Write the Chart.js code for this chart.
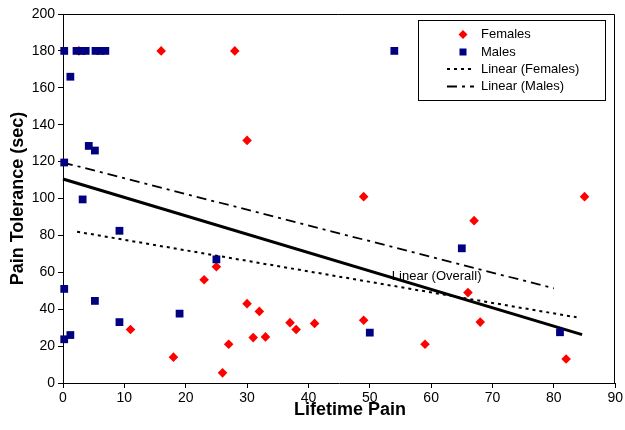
<!DOCTYPE html>
<html>
<head>
<meta charset="utf-8">
<script src="https://cdn.jsdelivr.net/npm/chart.js@4/dist/chart.umd.min.js"></script>
<style>
  html, body { margin: 0; padding: 0; background: #fff; }
  #wrap { width: 625px; height: 430px; position: relative; }
</style>
</head>
<body>
<div id="wrap"><canvas id="c" width="625" height="430"></canvas></div>
<script>
// ---- data ----
const femalesX = [2.6, 16, 28, 30, 49, 85, 67, 66, 68, 59, 82, 25, 23, 30, 11, 18, 26, 31, 32, 27, 33, 37, 38, 41, 49];
const femalesY = [180, 180, 180, 131.5, 101, 101, 88, 49, 33, 21, 13, 63, 56, 43, 29, 14, 5.5, 24.6, 38.8, 21, 25, 32.7, 29, 32.3, 34];

const malesX = [0.2, 2.2, 3, 3.7, 5.3, 6.1, 6.9, 1.2, 4.2, 5.2, 0.2, 3.2, 9.2, 25, 0.2, 5.2, 19, 9.2, 1.2, 0.2, 54, 50, 65, 81];
const malesY = [180, 180, 180, 180, 180, 180, 180, 166, 128.5, 126, 119.5, 99.5, 82.5, 67, 51, 44.5, 37.6, 33, 26, 23.7, 180, 27.3, 73, 27.5];

const trendFemalesX = [2.3, 83.7];
const trendFemalesY = [82, 35.6];
const trendMalesX = [0, 80];
const trendMalesY = [119.5, 51.3];
const trendOverallX = [0, 84.6];
const trendOverallY = [110.6, 26.2];

const xTicks = [0, 10, 20, 30, 40, 50, 60, 70, 80, 90];
const yTicks = [0, 20, 40, 60, 80, 100, 120, 140, 160, 180, 200];

const seriesNames = ['Females', 'Males', 'Linear (Females)', 'Linear (Males)'];
const overallLabel = 'Linear (Overall)';
const overallLabelPos = [60.9, 58];
const xTitle = 'Lifetime Pain';
const yTitle = 'Pain Tolerance (sec)';

// ---- build ----
const pts = (xs, ys) => xs.map((x, i) => ({ x: x, y: ys[i] }));
const FONT = '"Liberation Sans", Arial, Helvetica, sans-serif';
const RED = '#ff0000';
const NAVY = '#000080';
const DOT = [3, 4];
const DASHDOT = [10, 5, 3, 5];

const framePlugin = {
  id: 'frameAndLegend',
  afterDraw(chart) {
    const ctx = chart.ctx;
    const a = chart.chartArea;
    ctx.save();
    // frame (top and right)
    ctx.strokeStyle = '#000';
    ctx.lineWidth = 1;
    ctx.beginPath();
    ctx.moveTo(a.left, a.top + 0.5);
    ctx.lineTo(Math.round(a.right) - 0.5, a.top + 0.5);
    ctx.lineTo(Math.round(a.right) - 0.5, a.bottom);
    ctx.stroke();

    // x axis title
    ctx.fillStyle = '#000';
    ctx.font = 'bold 18px ' + FONT;
    ctx.textAlign = 'center';
    ctx.textBaseline = 'middle';
    ctx.fillText(xTitle, 350, 410);

    // overall label
    const xs = chart.scales.x, ys = chart.scales.y;
    ctx.font = '13px ' + FONT;
    ctx.fillText(overallLabel, xs.getPixelForValue(overallLabelPos[0]), ys.getPixelForValue(overallLabelPos[1]));

    // legend box
    const bx = 418.5, by = 20.5, bw = 187, bh = 80;
    ctx.fillStyle = '#fff';
    ctx.fillRect(bx, by, bw, bh);
    ctx.strokeStyle = '#000';
    ctx.lineWidth = 1;
    ctx.strokeRect(bx, by, bw, bh);
    const rows = [34.5, 52, 69, 86.5];
    const sx = 463, tx = 481;
    ctx.textAlign = 'left';
    ctx.font = '13px ' + FONT;
    // Females: diamond
    ctx.fillStyle = RED;
    ctx.beginPath();
    ctx.moveTo(sx, rows[0] - 4.5); ctx.lineTo(sx + 4.5, rows[0]); ctx.lineTo(sx, rows[0] + 4.5); ctx.lineTo(sx - 4.5, rows[0]);
    ctx.closePath(); ctx.fill();
    // Males: square
    ctx.fillStyle = NAVY;
    ctx.fillRect(sx - 3.5, rows[1] - 3.5, 7, 7);
    // Linear females
    ctx.strokeStyle = '#000';
    ctx.lineWidth = 2;
    ctx.setLineDash(DOT);
    ctx.beginPath(); ctx.moveTo(447, rows[2]); ctx.lineTo(474, rows[2]); ctx.stroke();
    // Linear males
    ctx.setLineDash(DASHDOT);
    ctx.beginPath(); ctx.moveTo(447, rows[3]); ctx.lineTo(474, rows[3]); ctx.stroke();
    ctx.setLineDash([]);
    ctx.fillStyle = '#000';
    seriesNames.forEach((n, i) => ctx.fillText(n, tx, rows[i]));
    ctx.restore();
  }
};

new Chart(document.getElementById('c'), {
  type: 'scatter',
  data: {
    datasets: [
      { label: seriesNames[0], data: pts(femalesX, femalesY), pointStyle: 'rectRot', pointRadius: 4.8,
        backgroundColor: RED, borderColor: RED, borderWidth: 0, order: 2, clip: false },
      { label: seriesNames[1], data: pts(malesX, malesY), pointStyle: 'rect', pointRadius: 5.5,
        backgroundColor: NAVY, borderColor: NAVY, borderWidth: 0, order: 1, clip: false },
      { type: 'line', label: seriesNames[2], data: pts(trendFemalesX, trendFemalesY), borderColor: '#000',
        borderWidth: 2, borderDash: DOT, pointRadius: 0, fill: false, order: 3, clip: false },
      { type: 'line', label: seriesNames[3], data: pts(trendMalesX, trendMalesY), borderColor: '#000',
        borderWidth: 1.8, borderDash: DASHDOT, pointRadius: 0, fill: false, order: 3, clip: false },
      { type: 'line', label: overallLabel, data: pts(trendOverallX, trendOverallY), borderColor: '#000',
        borderWidth: 3, pointRadius: 0, fill: false, order: 3, clip: false }
    ]
  },
  options: {
    responsive: false,
    animation: false,
    events: [],
    layout: { padding: { top: 14, right: 8, left: 0, bottom: 0 } },
    plugins: { legend: { display: false }, tooltip: { enabled: false } },
    scales: {
      x: {
        type: 'linear', min: 0, max: 90,
        afterBuildTicks: s => { s.ticks = xTicks.map(v => ({ value: v })); },
        afterFit: s => { s.height = 47; },
        grid: { drawOnChartArea: false, drawTicks: true, tickLength: 5, color: '#000', lineWidth: 1 },
        border: { color: '#000', width: 1 },
        ticks: { color: '#000', font: { family: FONT, size: 14 }, padding: 2, maxRotation: 0 },
        title: { display: false, text: xTitle }
      },
      y: {
        type: 'linear', min: 0, max: 200,
        afterBuildTicks: s => { s.ticks = yTicks.map(v => ({ value: v })); },
        afterFit: s => { s.width = 63; },
        grid: { drawOnChartArea: false, drawTicks: true, tickLength: 5, color: '#000', lineWidth: 1 },
        border: { color: '#000', width: 1 },
        ticks: { color: '#000', font: { family: FONT, size: 14 }, padding: 3 },
        title: { display: true, text: yTitle, color: '#000', font: { family: FONT, size: 18, weight: 'bold' },
                 padding: { top: 7, bottom: 0 } }
      }
    }
  },
  plugins: [framePlugin]
});
</script>
</body>
</html>
